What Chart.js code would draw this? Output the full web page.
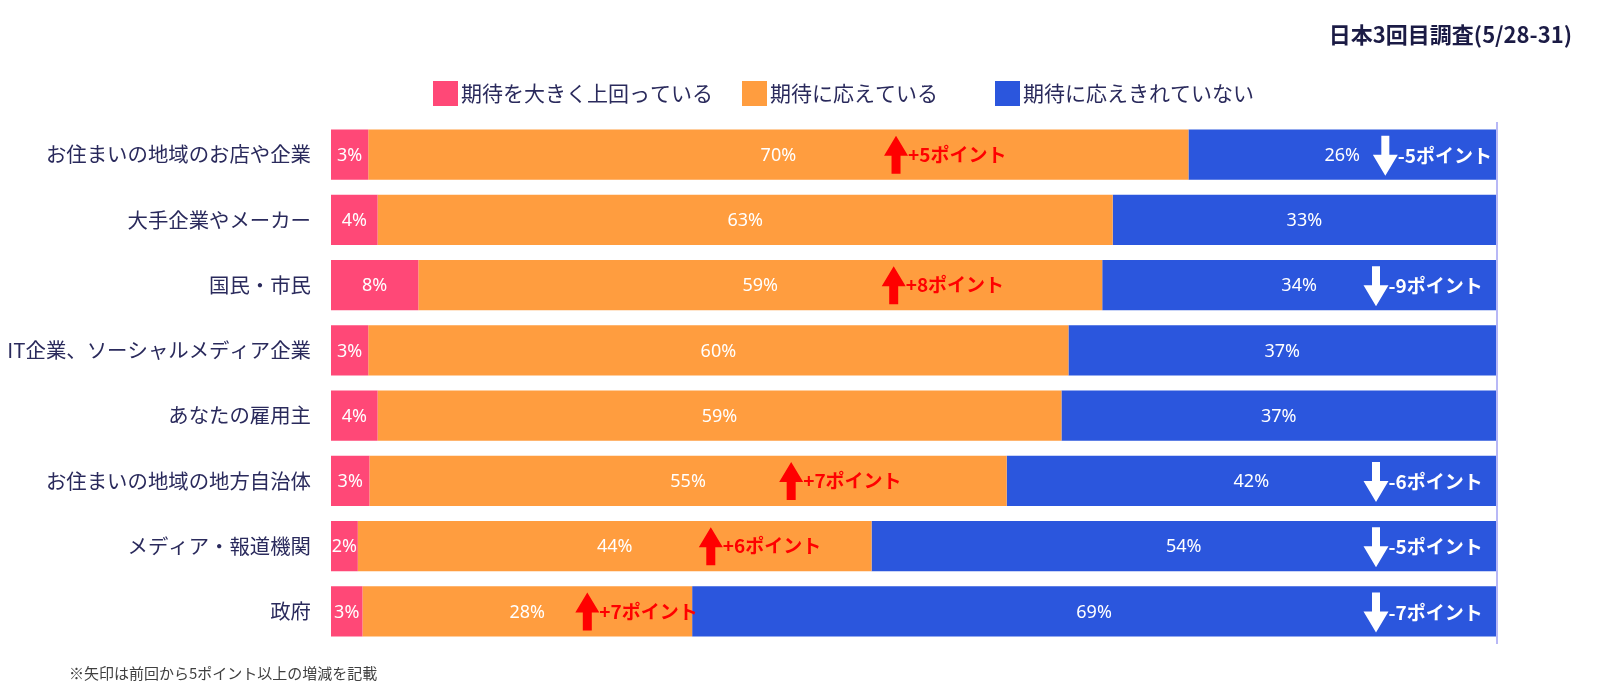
<!DOCTYPE html>
<html>
<head>
<meta charset="utf-8">
<script src="https://cdn.jsdelivr.net/npm/chart.js@4"></script>
<style>
  html, body { margin: 0; padding: 0; background: #fff; }
  #wrap { width: 1603px; height: 693px; position: relative; }
</style>
</head>
<body>
<div id="wrap"><canvas id="myChart"></canvas></div>
<script>
'use strict';

const categories = [
  'お住まいの地域のお店や企業',
  '大手企業やメーカー',
  '国民・市民',
  'IT企業、ソーシャルメディア企業',
  'あなたの雇用主',
  'お住まいの地域の地方自治体',
  'メディア・報道機関',
  '政府',
];
const seriesNames = ['期待を大きく上回っている', '期待に応えている', '期待に応えきれていない'];
const exceedVals = [3.2, 4.0, 7.5, 3.2, 4.0, 3.3, 2.3, 2.7];
const meetVals   = [70.4, 63.1, 58.7, 60.1, 58.7, 54.7, 44.1, 28.3];
const missVals   = [26.4, 32.9, 33.8, 36.7, 37.3, 42.0, 53.6, 69.0];

// change vs previous survey (points) and where the arrow sits on the value axis
const upChange   = [5, null, 8, null, null, 7, 6, 7];
const upAt       = [48.5, null, 48.3, null, null, 39.5, 32.6, 22.0];
const downChange = [-5, null, -9, null, null, -6, -5, -7];
const downAt     = [90.5, null, 89.7, null, null, 89.7, 89.7, 89.7];

const titleText = '日本3回目調査(5/28-31)';
const noteText = '※矢印は前回から5ポイント以上の増減を記載';

const colors = ['#FF4877', '#FF9D3F', '#2B56DD'];
const JP = '"Noto Sans CJK JP", "Noto Sans", sans-serif';

function upArrow(ctx, cx, cy) {
  ctx.beginPath();
  ctx.moveTo(cx, cy - 19);
  ctx.lineTo(cx + 12, cy + 1);
  ctx.lineTo(cx + 4.5, cy + 1);
  ctx.lineTo(cx + 4.5, cy + 19);
  ctx.lineTo(cx - 4.5, cy + 19);
  ctx.lineTo(cx - 4.5, cy + 1);
  ctx.lineTo(cx - 12, cy + 1);
  ctx.closePath();
  ctx.fill();
}

function downArrow(ctx, cx, cy) {
  ctx.beginPath();
  ctx.moveTo(cx - 4, cy - 20);
  ctx.lineTo(cx + 4, cy - 20);
  ctx.lineTo(cx + 4, cy - 1);
  ctx.lineTo(cx + 12.5, cy - 1);
  ctx.lineTo(cx, cy + 20);
  ctx.lineTo(cx - 12.5, cy - 1);
  ctx.lineTo(cx - 4, cy - 1);
  ctx.closePath();
  ctx.fill();
}

const overlay = {
  id: 'overlay',
  afterDatasetsDraw(chart) {
    const ctx = chart.ctx;
    const xs = chart.scales.x;
    const ys = chart.scales.y;
    ctx.save();
    ctx.fillStyle = '#fff';
    ctx.font = '18px "Noto Sans", sans-serif';
    ctx.textAlign = 'center';
    ctx.textBaseline = 'middle';
    chart.data.datasets.forEach((ds, di) => {
      chart.getDatasetMeta(di).data.forEach((bar, i) => {
        ctx.fillText(Math.round(ds.data[i]) + '%', (bar.x + bar.base) / 2, bar.y + 1);
      });
    });

    ctx.textAlign = 'left';
    ctx.font = 'bold 19px ' + JP;
    categories.forEach((c, i) => {
      const cy = ys.getPixelForValue(i);
      if (upChange[i] != null) {
        const cx = xs.getPixelForValue(upAt[i]);
        ctx.fillStyle = '#FF0000';
        upArrow(ctx, cx, cy);
        ctx.fillText('+' + upChange[i] + 'ポイント', cx + 12, cy);
      }
      if (downChange[i] != null) {
        const cx = xs.getPixelForValue(downAt[i]);
        ctx.fillStyle = '#fff';
        downArrow(ctx, cx, cy + 1);
        ctx.fillText(downChange[i] + 'ポイント', cx + 12.5, cy + 1);
      }
    });

    // right edge line
    const rx = xs.getPixelForValue(100) + 1;
    ctx.strokeStyle = '#b8b8f6';
    ctx.lineWidth = 2;
    ctx.beginPath();
    ctx.moveTo(rx, chart.chartArea.top);
    ctx.lineTo(rx, chart.chartArea.bottom);
    ctx.stroke();
    ctx.restore();
  },
  afterDraw(chart) {
    const ctx = chart.ctx;
    ctx.save();
    // title
    ctx.fillStyle = '#1b1b45';
    ctx.font = 'bold 22px ' + JP;
    ctx.textAlign = 'right';
    ctx.textBaseline = 'middle';
    ctx.fillText(titleText, 1572, 35);

    // legend
    const legendX = [433, 742, 995];
    ctx.textAlign = 'left';
    ctx.font = '21px ' + JP;
    seriesNames.forEach((name, i) => {
      ctx.fillStyle = colors[i];
      ctx.fillRect(legendX[i], 81, 25, 25);
      ctx.fillStyle = '#2a2a5c';
      ctx.fillText(name, legendX[i] + 28, 93);
    });

    // footnote
    ctx.fillStyle = '#404040';
    ctx.font = '15px ' + JP;
    ctx.fillText(noteText, 69, 673);
    ctx.restore();
  }
};

new Chart(document.getElementById('myChart'), {
  type: 'bar',
  data: {
    labels: categories,
    datasets: [
      { label: seriesNames[0], data: exceedVals, backgroundColor: colors[0] },
      { label: seriesNames[1], data: meetVals, backgroundColor: colors[1] },
      { label: seriesNames[2], data: missVals, backgroundColor: colors[2] },
    ]
  },
  options: {
    indexAxis: 'y',
    responsive: true,
    maintainAspectRatio: false,
    animation: false,
    layout: { padding: { top: 122, bottom: 49, left: 0, right: 107 } },
    datasets: {
      bar: { barPercentage: 0.77, categoryPercentage: 1, borderWidth: 0 }
    },
    scales: {
      x: { stacked: true, min: 0, max: 100, display: false },
      y: {
        stacked: true,
        grid: { display: false, drawTicks: false },
        border: { display: false },
        ticks: {
          padding: 20,
          color: '#2a2a5c',
          font: { size: 20.4, family: JP }
        },
        afterFit(scale) { scale.width = 331; }
      }
    },
    plugins: {
      legend: { display: false },
      tooltip: { enabled: false }
    }
  },
  plugins: [overlay]
});
</script>
</body>
</html>
